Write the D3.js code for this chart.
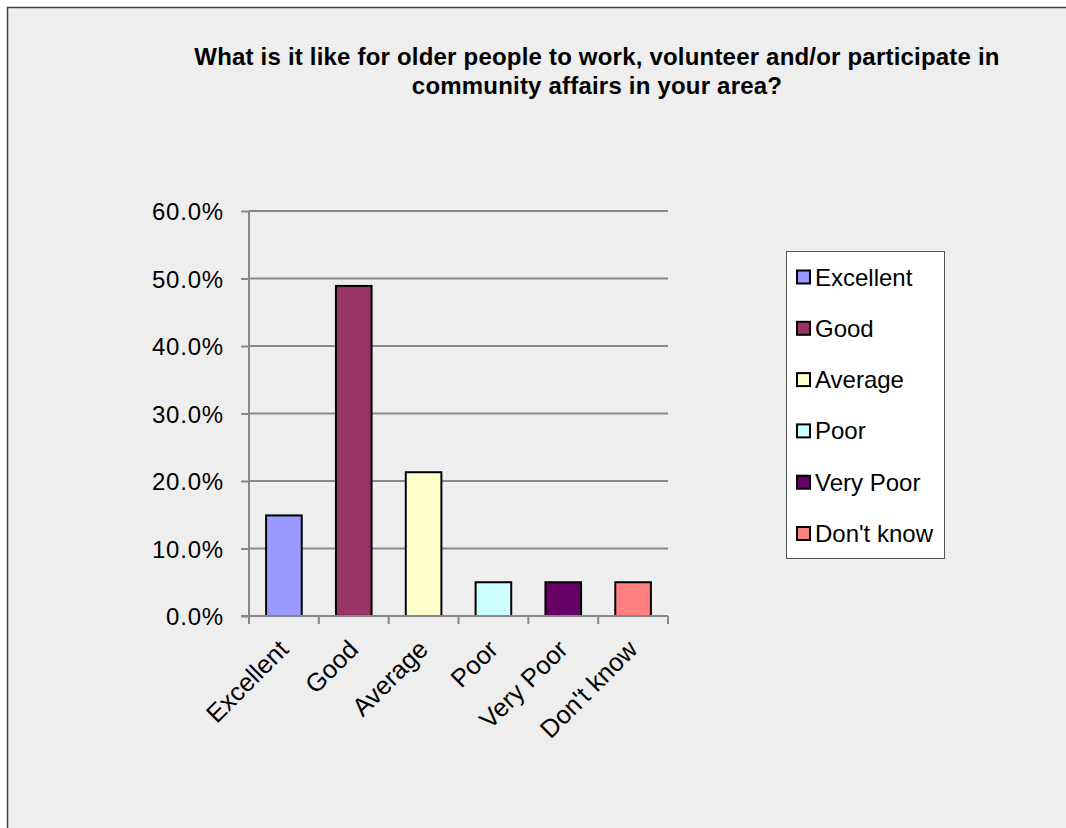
<!DOCTYPE html>
<html><head><meta charset="utf-8">
<script src="https://cdn.jsdelivr.net/npm/d3@7"></script>
<style>html,body{margin:0;padding:0;background:#fff;}svg{display:block;}</style>
</head><body>
<svg id="chart" width="1066" height="828"></svg>
<script>
const categories = ["Excellent","Good","Average","Poor","Very Poor","Don't know"];
const values = [0.149, 0.489, 0.213, 0.05, 0.05, 0.05];
const colors = ["#9999FF","#993366","#FFFFCC","#CCFFFF","#660066","#FF8080"];
const yTicks = [0, 0.1, 0.2, 0.3, 0.4, 0.5, 0.6];
const titleLines = ["What is it like for older people to work, volunteer and/or participate in","community affairs in your area?"];

const svg = d3.select("#chart");
const font = "'Liberation Sans', Arial, sans-serif";

svg.append("rect").attr("x",7.5).attr("y",7.5).attr("width",1070).attr("height",830)
  .attr("fill","#eeeeee").attr("stroke","#444").attr("stroke-width",1.5);

const m = {left:249, right:668, top:211, bottom:616};
const x = d3.scaleBand().domain(categories).range([m.left,m.right]).paddingInner(0.49).paddingOuter(0.245);
const xb = d3.scaleBand().domain(categories).range([m.left,m.right]);
const y = d3.scaleLinear().domain([0,0.6]).range([m.bottom,m.top]);

// gridlines
svg.append("g").selectAll("line").data(yTicks.slice(1)).join("line")
  .attr("x1",m.left).attr("x2",m.right).attr("y1",d=>y(d)).attr("y2",d=>y(d))
  .attr("stroke","#888").attr("stroke-width",2);

// y axis
const yAxis = svg.append("g").attr("transform",`translate(${m.left},0)`)
  .call(d3.axisLeft(y).tickValues(yTicks).tickFormat(d3.format(".1%")).tickSize(8).tickPadding(17));
yAxis.select(".domain").attr("stroke","#888").attr("stroke-width",2).attr("d",`M0,${m.top}V${m.bottom}`);
yAxis.selectAll(".tick line").attr("stroke","#888").attr("stroke-width",2);
yAxis.selectAll("text").attr("font-family",font).attr("font-size",24).attr("fill","#000")
  .attr("letter-spacing",0.8).attr("dy","0.36em");

// bars
svg.append("g").selectAll("rect").data(categories).join("rect")
  .attr("x",d=>x(d)).attr("width",x.bandwidth())
  .attr("y",(d,i)=>y(values[i])).attr("height",(d,i)=>m.bottom-y(values[i]))
  .attr("fill",(d,i)=>colors[i]).attr("stroke","#000").attr("stroke-width",2);

// x axis
const xAxis = svg.append("g").attr("transform",`translate(0,${m.bottom})`);
xAxis.append("line").attr("x1",m.left-8).attr("x2",m.right).attr("y1",0).attr("y2",0)
  .attr("stroke","#888").attr("stroke-width",2);
const bounds = categories.map(c=>xb(c)).concat([m.right]);
xAxis.selectAll("line.tk").data(bounds).join("line").attr("class","tk")
  .attr("x1",d=>d).attr("x2",d=>d).attr("y1",0).attr("y2",8)
  .attr("stroke","#888").attr("stroke-width",2);
xAxis.selectAll("text").data(categories).join("text")
  .attr("transform",d=>`translate(${xb(d)+xb.bandwidth()/2+6},${35}) rotate(-45)`)
  .attr("text-anchor","end").attr("font-family",font).attr("font-size",25.5).attr("fill","#000")
  .text(d=>d);

// title
svg.append("g").selectAll("text").data(titleLines).join("text")
  .attr("x",597).attr("y",(d,i)=>65+i*29).attr("text-anchor","middle")
  .attr("font-family",font).attr("font-weight","bold").attr("font-size",24).attr("fill","#000")
  .attr("letter-spacing",0.2)
  .text(d=>d);

// legend
const lg = svg.append("g");
lg.append("rect").attr("x",786.5).attr("y",251.5).attr("width",158).attr("height",307)
  .attr("fill","#fff").attr("stroke","#555").attr("stroke-width",1);
const items = lg.selectAll("g").data(categories).join("g")
  .attr("transform",(d,i)=>`translate(797,${277+i*51.3})`);
items.append("rect").attr("x",0).attr("y",-6.5).attr("width",13).attr("height",13)
  .attr("fill",(d,i)=>colors[i]).attr("stroke","#000").attr("stroke-width",2);
items.append("text").attr("x",18).attr("y",8.5).attr("font-family",font).attr("font-size",24)
  .attr("fill","#000").text(d=>d);
</script>
</body></html>
